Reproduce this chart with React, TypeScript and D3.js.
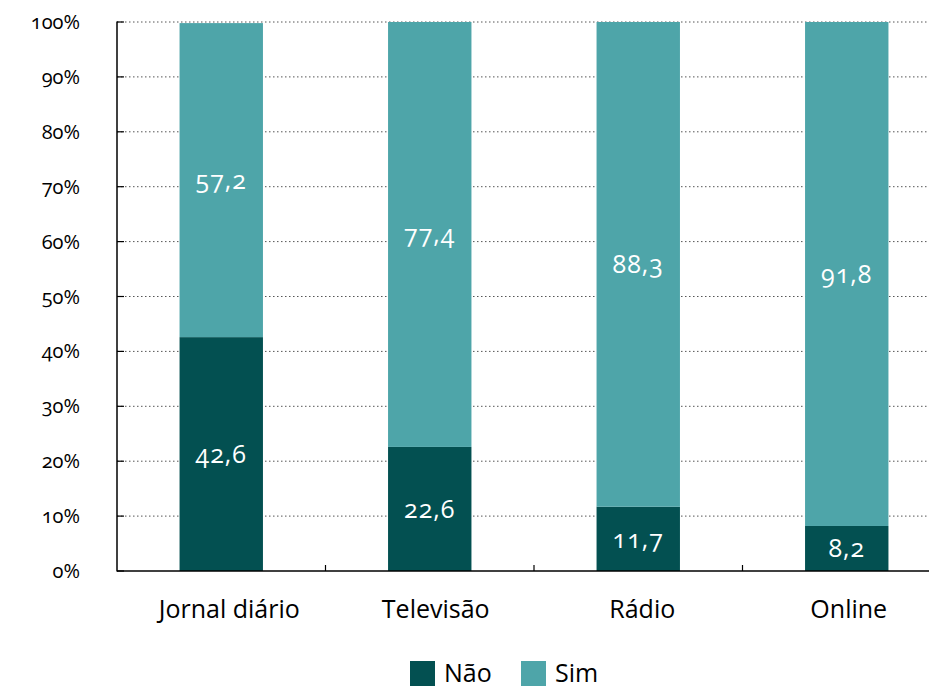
import React from "react";
import * as d3 from "d3";

const categories = ["Jornal diário", "Televisão", "Rádio", "Online"];
const naoValues = [42.6, 22.6, 11.7, 8.2];
const simValues = [57.2, 77.4, 88.3, 91.8];
const seriesNames = ["Não", "Sim"];
const yTicks = [0, 10, 20, 30, 40, 50, 60, 70, 80, 90, 100];

const W = 929;
const H = 688;
const margin = { left: 117, top: 22, right: 0, bottom: 117 };
const plotRight = 951;
const colors = ["#035051", "#4ea5a9"];
const font = "'Open Sans', sans-serif";

export default function App() {
  const x = d3.scaleBand<string>().domain(categories).range([margin.left, plotRight]).paddingInner(0.6).paddingOuter(0.3);
  const xOuter = d3.scaleBand<string>().domain(categories).range([margin.left, plotRight]);
  const y = d3.scaleLinear().domain([0, 100]).range([H - margin.bottom, margin.top]);

  const rows = categories.map((c, i) => ({ cat: c, Não: naoValues[i], Sim: simValues[i] }));
  const stack = d3.stack<any>().keys(seriesNames)(rows);
  const y0 = y(0);

  return (
    <svg width={W} height={H} style={{ position: "absolute", left: 0, top: 0, background: "#fff" }} fontFamily={font}>
      {/* gridlines */}
      {yTicks.filter((t) => t > 0).map((t) => (
        <line key={t} x1={margin.left} x2={W} y1={y(t)} y2={y(t)} stroke="#555" strokeWidth={1} strokeDasharray="1.5,2.5" />
      ))}
      {/* bars */}
      {stack.map((s, si) => (
        <g key={s.key}>
          {s.map((d: any, i: number) => (
            <rect key={i} x={x(categories[i])} width={x.bandwidth()} y={y(d[1])} height={y(d[0]) - y(d[1])} fill={colors[si]} />
          ))}
        </g>
      ))}
      {/* labels */}
      {stack.map((s, si) => (
        <g key={"l" + s.key}>
          {s.map((d: any, i: number) => (
            <text key={i} x={x(categories[i])! + x.bandwidth() / 2} y={(y(d[0]) + y(d[1])) / 2} dy="0.35em" textAnchor="middle" fill="#fff" fontSize={25} letterSpacing={1} style={{ fontVariantNumeric: "oldstyle-nums" }}>
              {String(si === 0 ? naoValues[i] : simValues[i]).replace(".", ",")}
            </text>
          ))}
        </g>
      ))}
      {/* y axis */}
      <line x1={margin.left} x2={margin.left} y1={y(100) - 0.5} y2={y0 + 0.5} stroke="#000" strokeWidth={1.5} />
      {yTicks.map((t) => (
        <g key={"yt" + t}>
          <line x1={margin.left} x2={margin.left + 7} y1={y(t)} y2={y(t)} stroke="#000" strokeWidth={1.2} />
          <text x={80} y={y(t)} dy="0.35em" textAnchor="end" fontSize={20} fill="#000" style={{ fontVariantNumeric: "oldstyle-nums" }}>
            {t}%
          </text>
        </g>
      ))}
      {/* x axis */}
      <line x1={margin.left} x2={W} y1={y0} y2={y0} stroke="#000" strokeWidth={1.5} />
      {categories.slice(1).map((c) => (
        <line key={"xt" + c} x1={xOuter(c)} x2={xOuter(c)} y1={y0 - 6} y2={y0} stroke="#000" strokeWidth={1.2} />
      ))}
      {categories.map((c, i) => (
        <text key={"xl" + c} x={x(c)! + x.bandwidth() / 2 + (4 - i) * 2} y={609} dy="0.35em" textAnchor="middle" fontSize={25} fill="#000">
          {c}
        </text>
      ))}
      {/* legend */}
      {seriesNames.map((n, i) => (
        <g key={"lg" + n} transform={`translate(${410 + i * 111},661)`}>
          <rect width={25} height={25} fill={colors[i]} />
          <text x={34} y={12} dy="0.35em" fontSize={25} fill="#000">{n}</text>
        </g>
      ))}
    </svg>
  );
}
